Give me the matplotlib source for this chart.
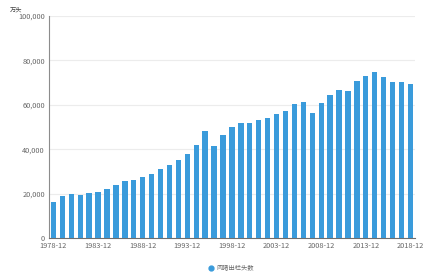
import numpy as np
import matplotlib
matplotlib.use("Agg")
import matplotlib.pyplot as plt
from matplotlib.lines import Line2D

plt.rcParams['font.family'] = ['Noto Sans CJK SC', 'DejaVu Sans']

# 肉猪出栏头数 (万头), 1978-2018
years = [f"{y}-12" for y in range(1978, 2019)]
values = [16110, 18767, 19861, 19495, 20063, 20661, 22047, 23875, 25722, 26177,
          27570, 29023, 30991, 32897, 35170, 37824, 42103, 48051, 41225, 46484,
          50215, 51977, 51862, 53281, 54144, 55702, 57279, 60367, 61209, 56508,
          61017, 64538, 66686, 66326, 70724, 72768, 74951, 72416, 70073, 70202,
          69382]
series_name = "肉猪出栏头数"
unit = "万头"
yticks = [0, 20000, 40000, 60000, 80000, 100000]

bar_color = "#3a9bdb"
text_color = "#666666"

fig = plt.figure(figsize=(4.32, 2.78), dpi=100)
ax = fig.add_axes([0.1134, 0.1439, 0.847, 0.7985])

x = np.arange(len(years))
ax.bar(x, values, width=0.6, color=bar_color, zorder=3)

ax.set_xlim(-0.5, len(years) - 0.5)
ax.set_ylim(0, 100000)
ax.set_yticks(yticks)
ax.set_yticklabels([f"{v:,}" for v in yticks])
ax.set_xticks(x[::5])
ax.set_xticklabels(years[::5])

ax.grid(axis='y', color='#ececec', linewidth=0.8, zorder=0)
ax.tick_params(axis='both', length=0, labelsize=5.3, labelcolor=text_color, pad=3)
for side in ['top', 'right']:
    ax.spines[side].set_visible(False)
ax.spines['left'].set_color('#8c8c8c')
ax.spines['bottom'].set_color('#6e6e6e')

# unit label above the y axis
fig.text(0.022, 0.965, unit, fontsize=4.5, color='#444444', va='center', ha='left')

# legend at the bottom with a round marker
handle = Line2D([], [], marker='o', linestyle='', markersize=3.5,
                markerfacecolor=bar_color, markeredgecolor=bar_color)
fig.legend([handle], [series_name], loc='center', bbox_to_anchor=(0.535, 0.036),
           frameon=False, fontsize=4.5, labelcolor=text_color,
           handletextpad=0.3, handlelength=1.0)

fig.savefig("out.png", dpi=100)
